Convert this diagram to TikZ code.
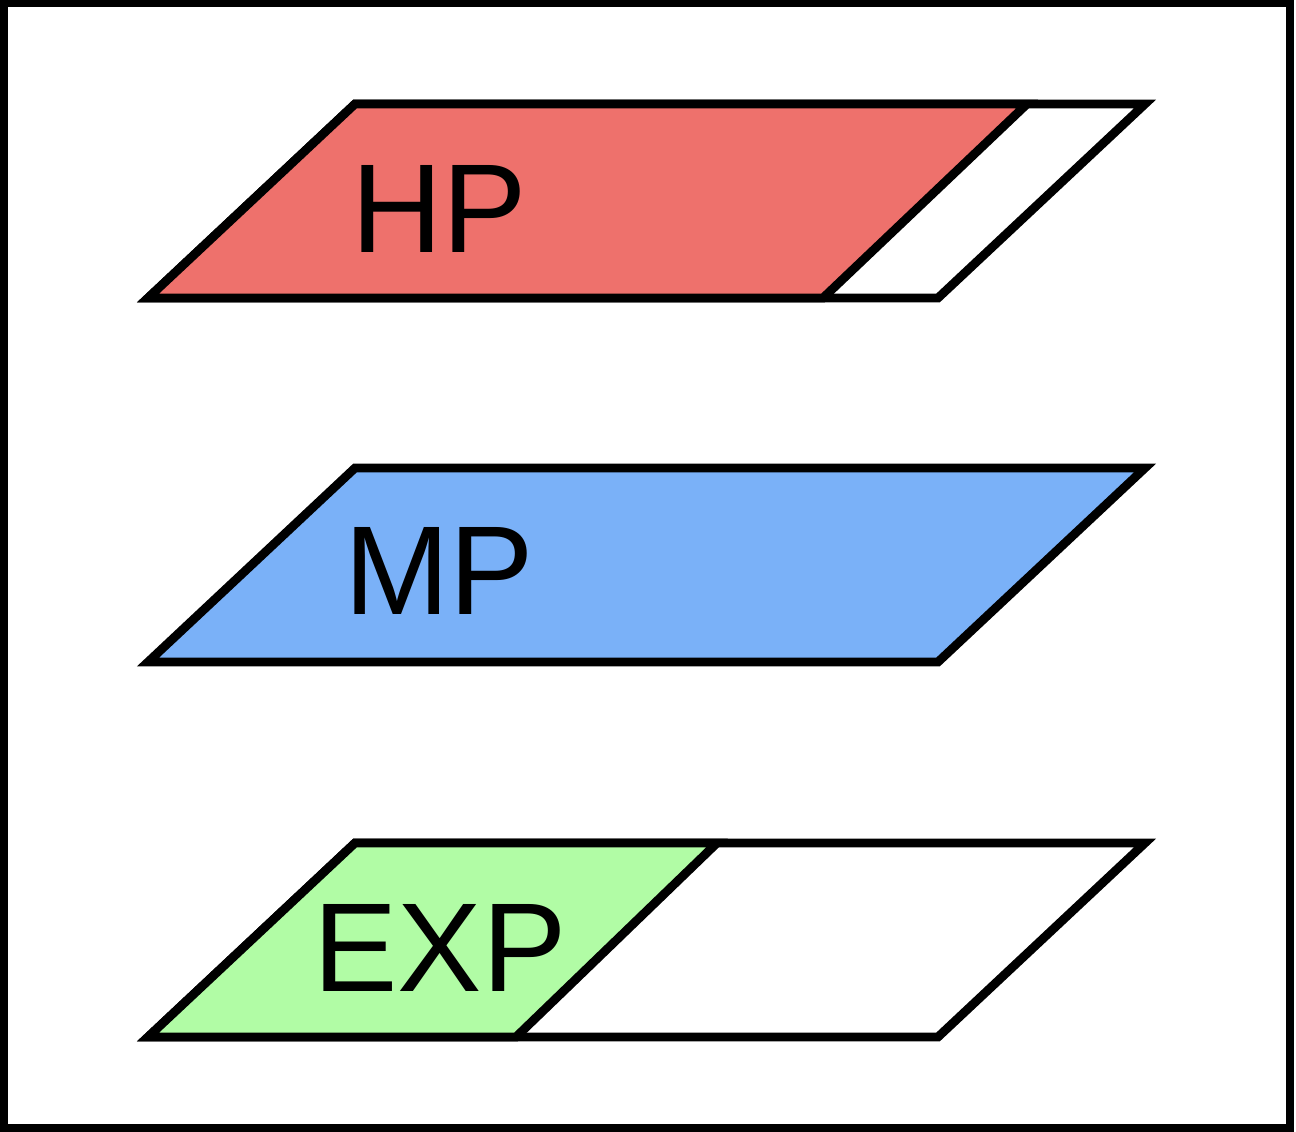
\documentclass[tikz,border=0pt]{standalone}
\usepackage{fontspec}
\setmainfont{Liberation Sans}
\definecolor{hpred}{HTML}{EE716C}
\definecolor{mpblue}{HTML}{7AB1F8}
\definecolor{expgreen}{HTML}{B1FCA5}
\begin{document}
\begin{tikzpicture}[x=0.02cm,y=-0.02cm,
  layer/.style={draw=black,line width=5pt},
  lbl/.style={font=\fontsize{72}{80}\selectfont,anchor=base,inner sep=0pt}]
\useasboundingbox (0,0) rectangle (1296,1132);
\draw[line width=4.5pt] (4,3) rectangle (1290,1128);
% HP
\draw[layer,fill=white] (148,298) -- (355,104) -- (1145,104) -- (938,298) -- cycle;
\draw[layer,fill=hpred] (148,298) -- (355,104) -- (1027,104) -- (823,298) -- cycle;
\node[lbl] (hp) at (439,253) {HP};
% MP
\draw[layer,fill=mpblue] (148,662) -- (355,468) -- (1145,468) -- (938,662) -- cycle;
\node[lbl] (mp) at (439,614) {MP};
% EXP
\draw[layer,fill=white] (148,1037) -- (355,843) -- (1145,843) -- (938,1037) -- cycle;
\draw[layer,fill=expgreen] (148,1037) -- (355,843) -- (717,843) -- (516,1037) -- cycle;
\node[lbl] (exp) at (440,991) {EXP};
\end{tikzpicture}
\end{document}
